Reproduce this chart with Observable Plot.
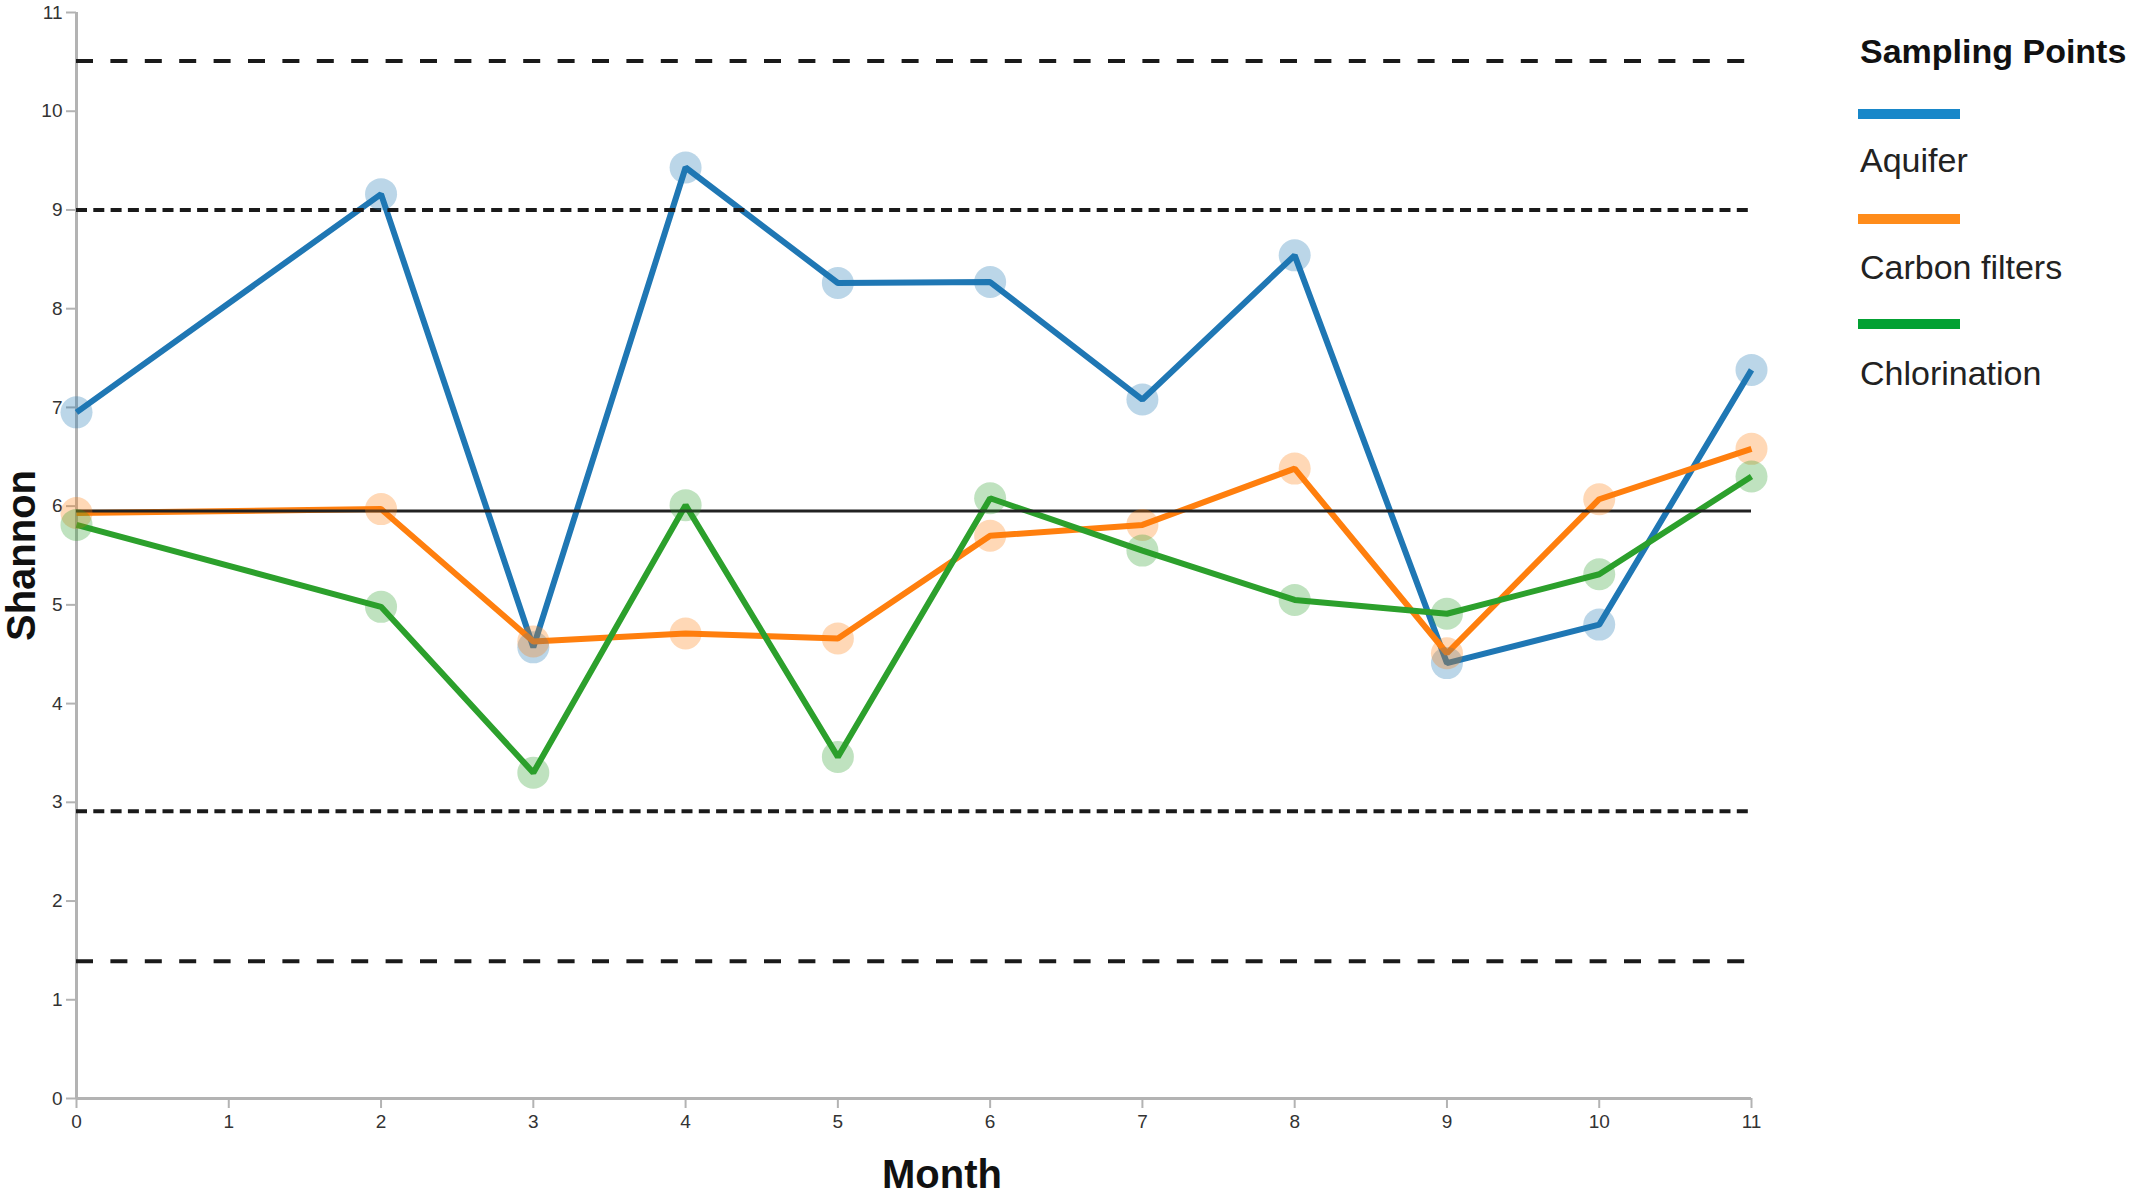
<!DOCTYPE html>
<html>
<head>
<meta charset="utf-8">
<script src="https://cdn.jsdelivr.net/npm/d3@7"></script>
<script src="https://cdn.jsdelivr.net/npm/@observablehq/plot@0.6"></script>
<style>
  html, body { margin: 0; padding: 0; background: #fff; }
  #wrap { position: relative; width: 2133px; height: 1193px; font-family: "Liberation Sans", Arial, sans-serif; }
  #legend { position: absolute; left: 1858px; top: 0; width: 275px; height: 420px; color: #111; }
  #legend .title { position: absolute; left: 2px; top: 31px; font-weight: bold; font-size: 34px; line-height: 40px; white-space: nowrap; }
  #legend .bar { position: absolute; left: 0; width: 102px; height: 10px; }
  #legend .lab { position: absolute; left: 2px; font-size: 34px; line-height: 40px; white-space: nowrap; color: #222; }
</style>
</head>
<body>
<div id="wrap"><div id="chart"></div><div id="legend"></div></div>
<script>
// ---- data ----
const months = [0, 2, 3, 4, 5, 6, 7, 8, 9, 10, 11];
const aquifer = [6.95, 9.16, 4.57, 9.43, 8.26, 8.27, 7.08, 8.54, 4.41, 4.80, 7.38];
const carbonFilters = [5.93, 5.97, 4.63, 4.71, 4.66, 5.70, 5.81, 6.38, 4.51, 6.07, 6.58];
const chlorination = [5.81, 4.98, 3.30, 6.01, 3.46, 6.08, 5.55, 5.05, 4.91, 5.31, 6.30];
const seriesNames = ["Aquifer", "Carbon filters", "Chlorination"];
const seriesColors = ["#1f77b4", "#ff7f0e", "#2ca02c"];
const legendColors = ["#1887c9", "#ff8c1a", "#03a133"];
const meanLine = [5.95];
const sigma2Lines = [2.91, 9.0];
const sigma3Lines = [1.39, 10.51];
const xTicks = [0, 1, 2, 3, 4, 5, 6, 7, 8, 9, 10, 11];
const yTicks = [0, 1, 2, 3, 4, 5, 6, 7, 8, 9, 10, 11];

const seriesValues = [aquifer, carbonFilters, chlorination];
const data = [];
seriesNames.forEach((name, i) => {
  months.forEach((m, j) => data.push({series: name, month: m, value: seriesValues[i][j]}));
});

const axisColor = "#b3b3b3";
const fmt = d3.format("d");
const chart = Plot.plot({
  width: 2133,
  height: 1193,
  marginLeft: 76,
  marginRight: 382,
  marginTop: 12,
  marginBottom: 95,
  style: {fontFamily: "Liberation Sans, Arial, sans-serif", background: "#fff", overflow: "visible"},
  x: {domain: [0, 11]},
  y: {domain: [0, 11]},
  color: {domain: seriesNames, range: seriesColors},
  marks: [
    Plot.ruleX([0], {y1: 0, y2: 11, stroke: axisColor, strokeWidth: 3}),
    Plot.ruleY([0], {x1: 0, x2: 11, stroke: axisColor, strokeWidth: 3}),
    Plot.axisY(yTicks, {tickSize: 10, tickPadding: 4, tickFormat: fmt, stroke: axisColor, strokeWidth: 2, fill: "#333", fontSize: 19, label: null}),
    Plot.axisX(xTicks, {tickSize: 10, tickPadding: 6, tickFormat: fmt, stroke: axisColor, strokeWidth: 2, fill: "#333", fontSize: 19, label: null}),
    Plot.line(data, {x: "month", y: "value", z: "series", stroke: "series", strokeWidth: 6, strokeLinejoin: "miter", strokeLinecap: "butt"}),
    Plot.ruleY(meanLine, {x1: 0, x2: 11, stroke: "#222", strokeWidth: 3}),
    Plot.ruleY(sigma2Lines, {x1: 0, x2: 11, stroke: "#1a1a1a", strokeWidth: 4, strokeDasharray: "11,6.3"}),
    Plot.ruleY(sigma3Lines, {x1: 0, x2: 11, stroke: "#1a1a1a", strokeWidth: 4, strokeDasharray: "17,17.4"}),
    Plot.dot(data, {x: "month", y: "value", fill: "series", fillOpacity: 0.3, r: 16, stroke: null}),
    Plot.text(["Shannon"], {frameAnchor: "left", dx: -54, rotate: -90, fontWeight: "bold", fontSize: 40, fill: "#111", textAnchor: "middle", lineAnchor: "middle"}),
    Plot.text(["Month"], {frameAnchor: "bottom", dx: 28, dy: 77, fontWeight: "bold", fontSize: 40, fill: "#111", textAnchor: "middle", lineAnchor: "middle"})
  ]
});
document.getElementById("chart").appendChild(chart);

// ---- legend (HTML) ----
const legend = document.getElementById("legend");
const title = document.createElement("div");
title.className = "title";
title.textContent = "Sampling Points";
legend.appendChild(title);
seriesNames.forEach((name, i) => {
  const bar = document.createElement("div");
  bar.className = "bar";
  bar.style.top = (109 + i * 105) + "px";
  bar.style.background = legendColors[i];
  legend.appendChild(bar);
  const lab = document.createElement("div");
  lab.className = "lab";
  lab.style.top = (140 + i * 106.5) + "px";
  lab.textContent = name;
  legend.appendChild(lab);
});
</script>
</body>
</html>
